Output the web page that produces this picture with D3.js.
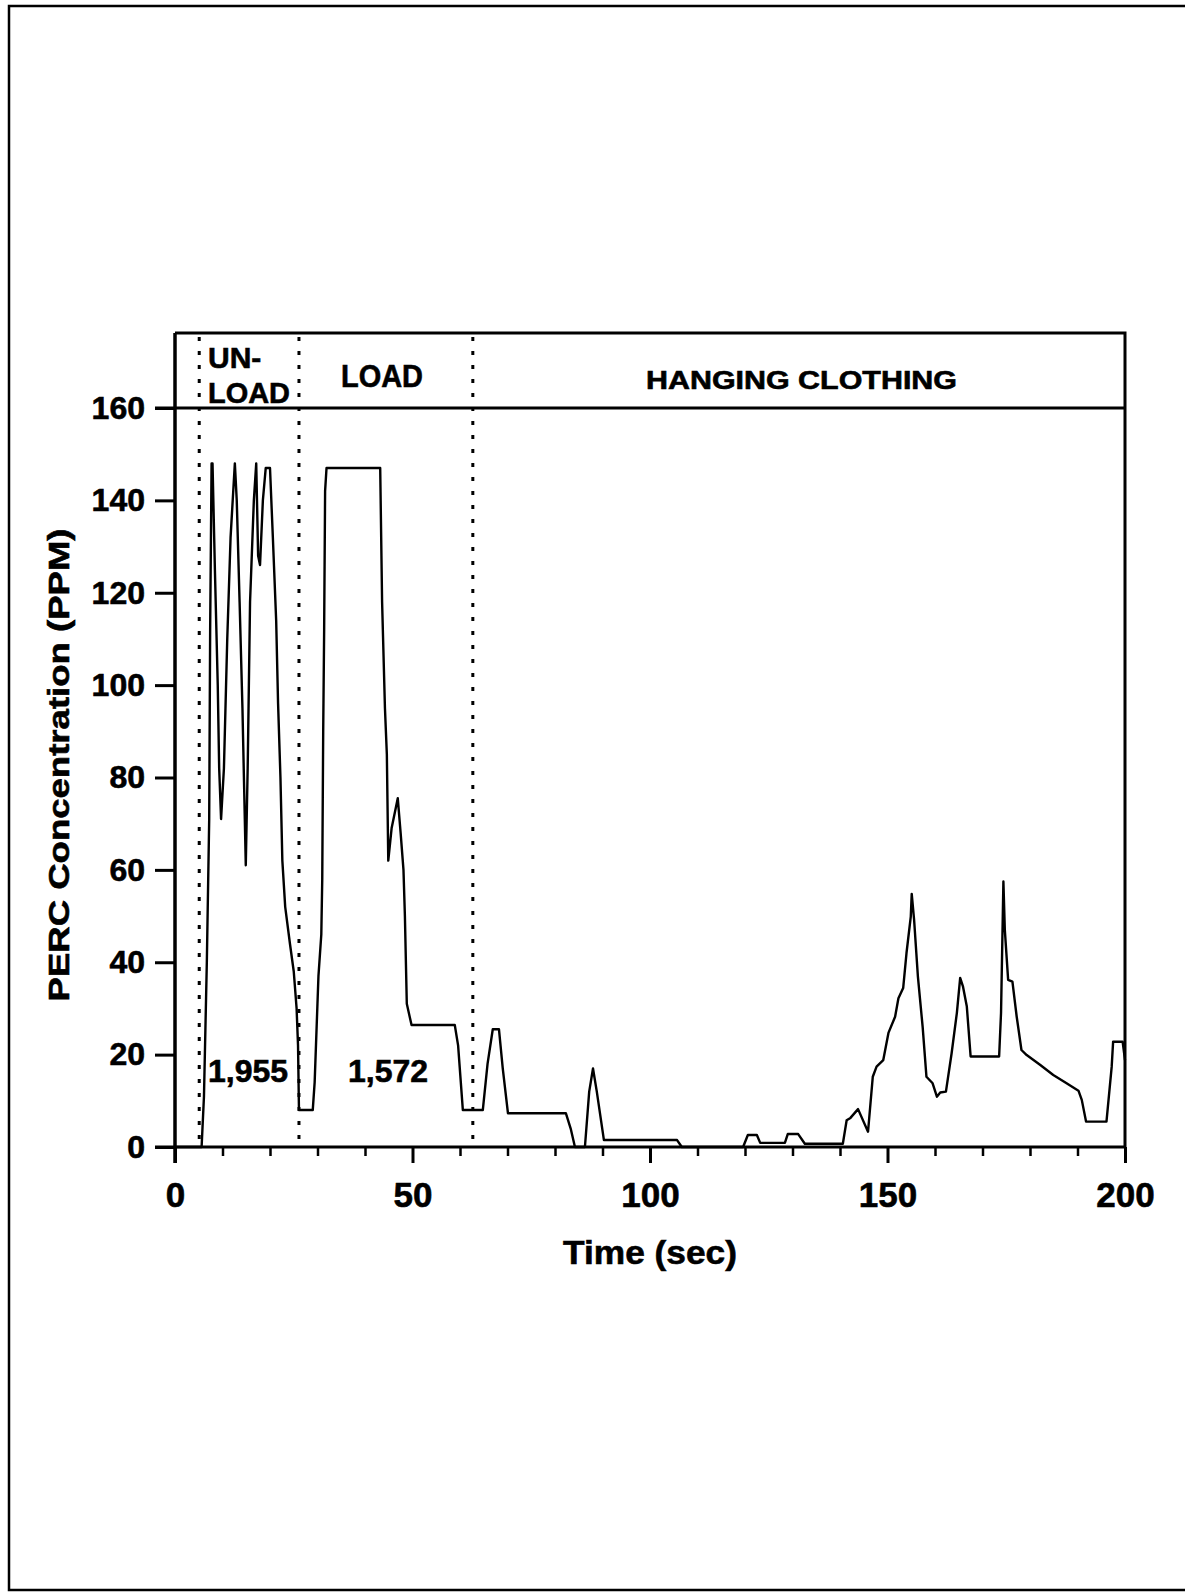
<!DOCTYPE html>
<html>
<head>
<meta charset="utf-8">
<script src="https://cdn.jsdelivr.net/npm/d3@7"></script>
<style>
  html, body { margin: 0; background: #fff; overflow: hidden; }
  svg { display: block; }
  svg text { font-family: "Liberation Sans", Arial, sans-serif; font-weight: bold; fill: #000; }
</style>
</head>
<body>
<div class="chart"></div>
<script>
// PERC concentration trace
var times = [0, 5.6, 6.1, 6.7, 7.2, 7.4, 7.7, 7.9, 8.4, 9.0, 9.3, 9.7, 10.3, 11.0, 11.7, 12.6, 13.0, 13.6, 14.2, 14.9,
  15.3, 15.8, 16.6, 17.1, 17.5, 17.9, 18.5, 19.1, 20.0, 20.6, 21.3, 21.7, 22.2, 22.6, 23.2, 24.2, 25.0, 25.6, 25.9, 26.1,
  29.0, 29.4, 30.2, 30.8, 31.0, 31.2, 31.4, 31.6, 31.9, 43.2, 43.6, 44.2, 44.6, 44.9, 45.6, 46.9, 47.5, 48.1, 48.4, 48.8,
  49.8, 58.9, 59.6, 60.6, 64.8, 65.8, 66.9, 68.2, 69.0, 70.1, 82.3, 83.3, 84.2, 86.3, 87.2, 88.0, 88.8, 90.3, 105.7, 106.7,
  119.6, 120.6, 122.5, 123.2, 128.4, 129.0, 131.2, 132.6, 140.6, 141.4, 142.2, 143.8, 145.9, 146.9, 147.7, 149.1, 150.2,
  151.6, 152.3, 153.3, 154.0, 154.9, 155.1, 155.6, 156.4, 157.4, 158.2, 159.5, 160.4, 161.1, 162.3, 163.5, 164.6, 165.3,
  165.9, 166.7, 167.5, 173.5, 173.9, 174.4, 174.7, 175.4, 176.3, 177.2, 178.2, 179.3, 182.1, 184.9, 187.7, 190.2, 190.9,
  191.8, 196.1, 197.2, 197.5, 199.5, 200];
var ppm = [0, 0, 11, 40, 71, 112, 148, 148, 125, 100, 82, 71, 82, 110, 132, 148, 140, 118, 95, 61,
  82, 118, 140, 148, 128, 126, 140, 147, 147, 132, 114, 96, 80, 62, 52, 44, 38, 30, 22, 8,
  8, 14, 37, 46, 58, 90, 112, 142, 147, 147, 118, 95, 85, 62, 69, 75.5, 68, 60, 50, 31,
  26.4, 26.4, 22, 8, 8, 18, 25.5, 25.5, 17, 7.3, 7.3, 4, 0, 0, 12, 17, 12, 1.5, 1.5, 0,
  0, 2.6, 2.6, 0.9, 0.9, 2.8, 2.8, 0.7, 0.7, 5.8, 6.3, 8.2, 3.3, 15.2, 17.4, 18.8, 24.7,
  28.2, 32.2, 34.4, 42, 49.9, 54.8, 49.2, 36.9, 26, 15.2, 13.8, 10.9, 11.8, 12, 20.3, 29, 36.6,
  34.7, 30.4, 19.6, 19.6, 29, 57.5, 47, 36.2, 35.8, 28.2, 21, 19.9, 17.8, 15.6, 13.8, 12.2, 10.2,
  5.5, 5.5, 17.4, 22.8, 22.8, 18.8];

var xTicks = [0, 50, 100, 150, 200];
var xMinorTicks = [10, 20, 30, 40, 60, 70, 80, 90, 110, 120, 130, 140, 160, 170, 180, 190];
var yTicks = [0, 20, 40, 60, 80, 100, 120, 140, 160];
var phaseBounds = [5.1, 26.1, 62.7];     // dotted lines between phases
var totals = ["1,955", "1,572"];

var W = 1185, H = 1593;
var svg = d3.select(".chart").append("svg")
    .attr("width", W)
    .attr("height", H);

var x = d3.scaleLinear().domain([0, 200]).range([175, 1125]);
var y = d3.scaleLinear().domain([0, 160]).range([1147, 408]);
var bandTop = 333;

// page frame (scanned border, open on the right)
svg.append("path")
    .attr("d", "M" + W + ",6 L9,6 L9,1590 L" + W + ",1590")
    .attr("fill", "none").attr("stroke", "#000").attr("stroke-width", 2.5);

// plot frame + phase band
svg.append("path")
    .attr("d", "M" + x(0) + "," + bandTop + " L" + x(200) + "," + bandTop + " L" + x(200) + "," + y(0))
    .attr("fill", "none").attr("stroke", "#000").attr("stroke-width", 3);
svg.append("line")
    .attr("x1", x(0) - 20).attr("x2", x(200))
    .attr("y1", y(160)).attr("y2", y(160))
    .attr("stroke", "#000").attr("stroke-width", 3);

// dotted phase separators
svg.selectAll(".sep").data(phaseBounds).enter().append("line")
    .attr("class", "sep")
    .attr("x1", function(d) { return x(d); }).attr("x2", function(d) { return x(d); })
    .attr("y1", bandTop + 4).attr("y2", y(0))
    .attr("stroke", "#000").attr("stroke-width", 3)
    .attr("stroke-dasharray", "4,10");

// axes
var yAxis = d3.axisLeft(y).tickValues(yTicks).tickSize(20).tickPadding(10);
var gy = svg.append("g").attr("transform", "translate(" + x(0) + ",0)").call(yAxis);
gy.select(".domain").remove();
gy.selectAll(".tick line").attr("stroke-width", 3);
gy.selectAll(".tick text").attr("font-size", 32).attr("stroke", "#000").attr("stroke-width", 0.6);

var xAxis = d3.axisBottom(x).tickValues(xTicks).tickSize(16).tickPadding(19);
var gx = svg.append("g").attr("transform", "translate(0," + y(0) + ")").call(xAxis);
gx.select(".domain").remove();
gx.selectAll(".tick line").attr("stroke-width", 3);
gx.selectAll(".tick text").attr("font-size", 35).attr("stroke", "#000").attr("stroke-width", 0.6);

var gxm = svg.append("g").attr("transform", "translate(0," + y(0) + ")")
    .call(d3.axisBottom(x).tickValues(xMinorTicks).tickSize(9).tickFormat(""));
gxm.select(".domain").remove();
gxm.selectAll(".tick line").attr("stroke-width", 2.5);

// axis lines
svg.append("line").attr("x1", x(0) - 20).attr("x2", x(200)).attr("y1", y(0)).attr("y2", y(0))
    .attr("stroke", "#000").attr("stroke-width", 3);
svg.append("line").attr("x1", x(0)).attr("x2", x(0)).attr("y1", bandTop).attr("y2", y(0) + 16)
    .attr("stroke", "#000").attr("stroke-width", 3.5);

// data line
var pts = times.map(function(t, i) { return [t, ppm[i]]; });
var line = d3.line().x(function(d) { return x(d[0]); }).y(function(d) { return y(d[1]); });
svg.append("path").datum(pts)
    .attr("d", line)
    .attr("fill", "none").attr("stroke", "#000").attr("stroke-width", 2.4)
    .attr("stroke-linejoin", "round");

// phase labels
function label(txt, px, py, size, len) {
    var t = svg.append("text").attr("x", px).attr("y", py).attr("font-size", size)
        .attr("stroke", "#000").attr("stroke-width", 0.6).text(txt);
    if (len) t.attr("textLength", len).attr("lengthAdjust", "spacingAndGlyphs");
    return t;
}
label("UN-", 208, 368, 30);
label("LOAD", 208, 403, 30, 82);
label("LOAD", 341, 387, 31, 82);
label("HANGING CLOTHING", 646, 389, 25, 311);

// totals in each phase
label(totals[0], 208, 1082, 31, 80);
label(totals[1], 348, 1082, 31, 80);

// axis titles
svg.append("text")
    .attr("x", 650).attr("y", 1264)
    .attr("text-anchor", "middle").attr("font-size", 34)
    .attr("stroke", "#000").attr("stroke-width", 0.6)
    .attr("textLength", 174).attr("lengthAdjust", "spacingAndGlyphs")
    .text("Time (sec)");
svg.append("text")
    .attr("transform", "translate(69,765) rotate(-90)")
    .attr("text-anchor", "middle").attr("font-size", 30)
    .attr("stroke", "#000").attr("stroke-width", 0.6)
    .attr("textLength", 473).attr("lengthAdjust", "spacingAndGlyphs")
    .text("PERC Concentration (PPM)");
</script>
</body>
</html>
